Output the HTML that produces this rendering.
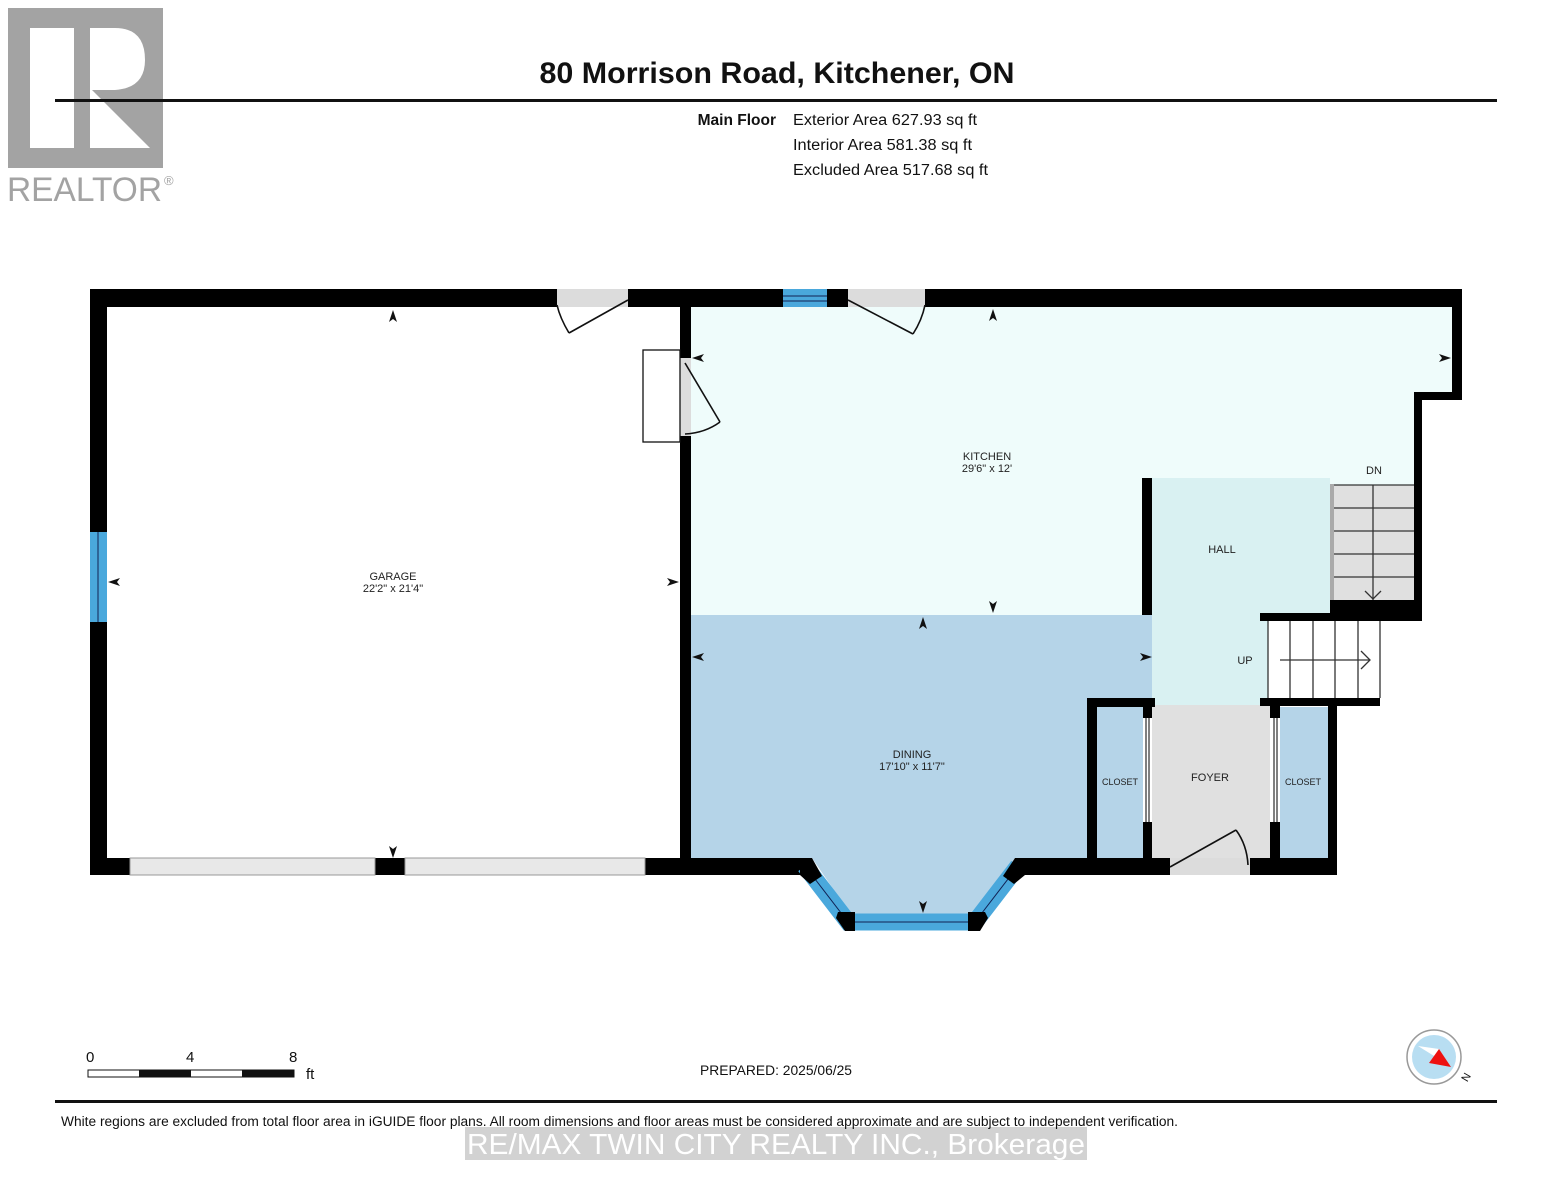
<!DOCTYPE html>
<html><head><meta charset="utf-8"><style>
html,body{margin:0;padding:0;background:#fff}
svg{display:block}
text{font-family:"Liberation Sans",Arial,sans-serif}
</style></head><body>
<svg width="1553" height="1200" viewBox="0 0 1553 1200" xmlns="http://www.w3.org/2000/svg">
<!-- logo -->
<rect x="8" y="8" width="155" height="160" fill="#a3a3a3"/>
<rect x="30" y="28" width="44" height="120" fill="#fff"/>
<path d="M90 28 H115 Q145 28 145 60 Q145 88 115 90 L92 90 L150 148 H90 Z" fill="#fff"/>
<text x="7" y="201" font-size="34" fill="#a3a3a3" textLength="155" lengthAdjust="spacingAndGlyphs">REALTOR</text>
<text x="164" y="185" font-size="13" fill="#a3a3a3">®</text>
<!-- header -->
<text x="777" y="83" font-size="30" font-weight="bold" text-anchor="middle" fill="#111" textLength="475" lengthAdjust="spacingAndGlyphs">80 Morrison Road, Kitchener, ON</text>
<rect x="55" y="99" width="1442" height="3" fill="#111"/>
<text x="776" y="125" font-size="15.5" font-weight="bold" text-anchor="end" fill="#111">Main Floor</text>
<text x="793" y="125" font-size="15.5" fill="#111" textLength="184" lengthAdjust="spacingAndGlyphs">Exterior Area 627.93 sq ft</text>
<text x="793" y="150" font-size="15.5" fill="#111" textLength="179" lengthAdjust="spacingAndGlyphs">Interior Area 581.38 sq ft</text>
<text x="793" y="175" font-size="15.5" fill="#111" textLength="195" lengthAdjust="spacingAndGlyphs">Excluded Area 517.68 sq ft</text>

<!-- fills -->
<polygon points="691,307 1452,307 1452,400 1414,400 1414,600 1330,600 1330,478 1152,478 1152,615 691,615" fill="#effcfb"/>
<rect x="1330" y="485" width="84" height="115" fill="#e0e0e0"/>
<polygon points="691,615 1155,615 1155,698 1087,698 1087,858 1015,858 975,918 853,918 812,858 691,858" fill="#b5d4e8"/>
<rect x="1152" y="478" width="178" height="227" fill="#d9f1f2"/>
<rect x="1268" y="621" width="112" height="77" fill="#fff"/>
<rect x="1152" y="705" width="118" height="170" fill="#e0e0e0"/>
<rect x="1097" y="707" width="46" height="151" fill="#b5d4e8"/>
<rect x="1280" y="707" width="48" height="151" fill="#b5d4e8"/>

<!-- stairs DN -->
<g stroke="#333" stroke-width="1.3" fill="none">
<line x1="1334" y1="485" x2="1414" y2="485"/>
<line x1="1334" y1="508" x2="1414" y2="508"/>
<line x1="1334" y1="531" x2="1414" y2="531"/>
<line x1="1334" y1="554" x2="1414" y2="554"/>
<line x1="1334" y1="577" x2="1414" y2="577"/>
<line x1="1373" y1="485" x2="1373" y2="600"/>
<polyline points="1365,591 1373,599 1381,591"/>
<!-- stairs UP -->
<line x1="1268" y1="621" x2="1268" y2="698"/>
<line x1="1290" y1="621" x2="1290" y2="698"/>
<line x1="1313" y1="621" x2="1313" y2="698"/>
<line x1="1335" y1="621" x2="1335" y2="698"/>
<line x1="1358" y1="621" x2="1358" y2="698"/>
<line x1="1380" y1="621" x2="1380" y2="698"/>
<line x1="1280" y1="660" x2="1370" y2="660"/>
<polyline points="1361,651 1370,660 1361,669"/>
</g>
<rect x="1330" y="484" width="4" height="116" fill="#aaa"/>

<!-- walls -->
<g fill="#000">
<rect x="90" y="289" width="1372" height="18"/>
<rect x="90" y="289" width="17" height="586"/>
<rect x="90" y="858" width="40" height="17"/>
<rect x="375" y="858" width="30" height="17"/>
<rect x="645" y="858" width="163" height="17"/>
<rect x="680" y="300" width="11" height="58"/>
<rect x="680" y="436" width="11" height="430"/>
<rect x="1452" y="289" width="10" height="111"/>
<rect x="1414" y="392" width="48" height="8"/>
<rect x="1414" y="392" width="8" height="229"/>
<rect x="1330" y="600" width="92" height="21"/>
<rect x="1260" y="613" width="75" height="8"/>
<rect x="1142" y="478" width="10" height="137"/>
<rect x="1260" y="698" width="120" height="8"/>
<rect x="1087" y="698" width="68" height="9"/>
<rect x="1087" y="698" width="10" height="177"/>
<rect x="1143" y="698" width="9" height="20"/>
<rect x="1143" y="822" width="9" height="53"/>
<rect x="1270" y="698" width="10" height="20"/>
<rect x="1270" y="822" width="10" height="53"/>
<rect x="1328" y="698" width="9" height="177"/>
<rect x="1015" y="858" width="155" height="17"/>
<rect x="1250" y="858" width="87" height="17"/>
</g>
<g stroke="#555" stroke-width="1.5"><line x1="1146" y1="718" x2="1146" y2="822"/><line x1="1149" y1="718" x2="1149" y2="822"/><line x1="1274" y1="718" x2="1274" y2="822"/><line x1="1277" y1="718" x2="1277" y2="822"/></g>
<rect x="130" y="858" width="245" height="17" fill="#e8e8e8" stroke="#999" stroke-width="1"/>
<rect x="405" y="858" width="240" height="17" fill="#e8e8e8" stroke="#999" stroke-width="1"/>
<rect x="90" y="532" width="17" height="90" fill="#4aa8dc"/>
<line x1="98" y1="532" x2="98" y2="622" stroke="#125" stroke-width="1"/>
<rect x="783" y="289" width="44" height="18" fill="#4aa8dc"/>
<line x1="783" y1="296" x2="827" y2="296" stroke="#125"/><line x1="783" y1="301" x2="827" y2="301" stroke="#125"/>
<polyline points="805,866 848,922 975,922 1018,866" fill="none" stroke="#4aa8dc" stroke-width="17"/>
<polyline points="805,866 848,922 975,922 1018,866" fill="none" stroke="#125" stroke-width="1"/>
<g fill="#000">
<polygon points="800,858 812,858 822,876 810,884 800,875"/>
<polygon points="838,912 855,912 855,931 845,931 836,918"/>
<polygon points="968,912 985,912 988,918 980,931 968,931"/>
<polygon points="1015,858 1025,858 1025,875 1014,884 1003,876"/>
</g>
<rect x="557" y="289" width="71" height="18" fill="#dcdcdc"/>
<rect x="848" y="289" width="77" height="18" fill="#dcdcdc"/>
<rect x="680" y="358" width="11" height="78" fill="#dcdcdc"/>
<rect x="1170" y="858" width="80" height="17" fill="#dcdcdc"/>
<g stroke="#111" stroke-width="1.6" fill="none">
<line x1="628" y1="300" x2="569" y2="333"/><path d="M569 333 Q560 318 557 305"/>
<line x1="848" y1="300" x2="913" y2="334"/><path d="M913 334 Q922 320 925 305"/>
<line x1="685" y1="363" x2="720" y2="422"/><path d="M720 422 Q705 433 685 434"/>
<rect x="643" y="350" width="37" height="92" stroke-width="1.3"/>
<line x1="1170" y1="867" x2="1236" y2="830"/><path d="M1236 830 Q1247 845 1248 865"/>
</g>
<g fill="#111">
<path d="M393 310 l-4 12 l4 -3 l4 3z"/>
<path d="M393 858 l-4 -12 l4 3 l4 -3z"/>
<path d="M108 582 l12 -4 l-3 4 l3 4z"/>
<path d="M679 582 l-12 -4 l3 4 l-3 4z"/>
<path d="M993 309 l-4 12 l4 -3 l4 3z"/>
<path d="M993 613 l-4 -12 l4 3 l4 -3z"/>
<path d="M692 358 l12 -4 l-3 4 l3 4z"/>
<path d="M1451 358 l-12 -4 l3 4 l-3 4z"/>
<path d="M923 617 l-4 12 l4 -3 l4 3z"/>
<path d="M923 913 l-4 -12 l4 3 l4 -3z"/>
<path d="M692 657 l12 -4 l-3 4 l3 4z"/>
<path d="M1152 657 l-12 -4 l3 4 l-3 4z"/>
</g>
<g font-size="11" fill="#222" text-anchor="middle">
<text x="393" y="580">GARAGE</text><text x="393" y="592">22'2" x 21'4"</text>
<text x="987" y="460">KITCHEN</text><text x="987" y="472">29'6" x 12'</text>
<text x="912" y="758">DINING</text><text x="912" y="770">17'10" x 11'7"</text>
<text x="1222" y="553">HALL</text>
<text x="1245" y="664">UP</text>
<text x="1374" y="474">DN</text>
<text x="1210" y="781">FOYER</text>
<text x="1120" y="785" font-size="9">CLOSET</text>
<text x="1303" y="785" font-size="9">CLOSET</text>
</g>
<g font-size="15" fill="#111">
<text x="86" y="1062">0</text><text x="186" y="1062">4</text><text x="289" y="1062">8</text><text x="306" y="1079">ft</text>
</g>
<rect x="88" y="1070" width="206" height="7" fill="#fff" stroke="#111" stroke-width="1"/>
<rect x="139" y="1070" width="52" height="7" fill="#111"/>
<rect x="242" y="1070" width="52" height="7" fill="#111"/>
<text x="700" y="1075" font-size="13.5" fill="#111" textLength="152" lengthAdjust="spacingAndGlyphs">PREPARED: 2025/06/25</text>
<circle cx="1434" cy="1057" r="27" fill="#fff" stroke="#999" stroke-width="1.5"/>
<circle cx="1434" cy="1057" r="22" fill="#b8def2"/>
<polygon points="1418,1046 1439,1049 1447,1064" fill="#fff"/>
<polygon points="1439,1049 1429,1063 1451,1067" fill="#e11"/>
<text x="1460" y="1082" font-size="11" fill="#111" transform="rotate(-60 1464 1076)">N</text>
<rect x="55" y="1100" width="1442" height="3" fill="#111"/>
<rect x="465" y="1127" width="622" height="33" fill="#d2d2d2"/>
<text x="61" y="1126" font-size="13.5" fill="#111" textLength="1117" lengthAdjust="spacingAndGlyphs">White regions are excluded from total floor area in iGUIDE floor plans. All room dimensions and floor areas must be considered approximate and are subject to independent verification.</text>
<text x="467" y="1154" font-size="29" fill="#fff" textLength="618" lengthAdjust="spacingAndGlyphs">RE/MAX TWIN CITY REALTY INC., Brokerage</text>
</svg>
</body></html>
